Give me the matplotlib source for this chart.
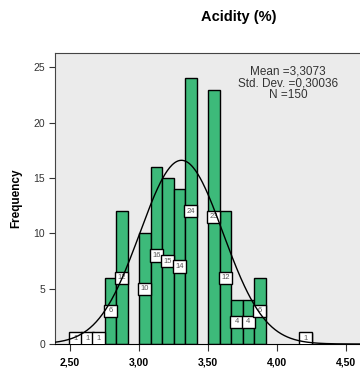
import numpy as np
import matplotlib
matplotlib.use("Agg")
import matplotlib.pyplot as plt
from matplotlib.patches import Rectangle

plt.rcParams['font.family'] = ['Liberation Sans', 'DejaVu Sans']

# histogram data (bin width 1/12, starting at 2.50)
bin_start = 2.5
bin_width = 1 / 12
counts = [1, 1, 1, 6, 12, 0, 10, 16, 15, 14, 24, 0, 23, 12, 4, 4, 6, 0, 0, 0, 1]
mean = 3.3073
std = 0.30036
n = 150
xticks = [2.5, 3.0, 3.5, 4.0, 4.5]
xticklabels = ["2,50", "3,00", "3,50", "4,00", "4,50"]
yticks = [0, 5, 10, 15, 20, 25]

edges = bin_start + np.arange(len(counts) + 1) * bin_width
lefts = edges[:-1]

fig = plt.figure(figsize=(3.6, 3.7), dpi=100)
ax = fig.add_axes([55 / 360, 26 / 370, 305 / 360, 291 / 370])
ax.set_facecolor('#ebebeb')

xlo, xhi = 2.391, 4.601
ax.set_xlim(xlo, xhi)
ax.set_ylim(0, 26.3)

mask = np.array(counts) > 0
ax.bar(lefts[mask], np.array(counts)[mask], width=bin_width, align='edge',
       color='#3dba7a', edgecolor='black', linewidth=1, zorder=2)

# count labels in boxes
for l, c in zip(lefts, counts):
    if c == 0:
        continue
    cx = l + bin_width / 2
    ax.add_patch(Rectangle((cx - 0.046, c / 2 - 0.55), 0.092, 1.1,
                           facecolor='white', edgecolor='black', lw=1, zorder=3))
    ax.text(cx, c / 2, str(c), ha='center', va='center', fontsize=5.5,
            color='#555555', zorder=4)

# normal curve
xs = np.linspace(xlo, xhi, 400)
ys = n * bin_width * np.exp(-0.5 * ((xs - mean) / std) ** 2) / (std * np.sqrt(2 * np.pi))
ax.plot(xs, ys, color='black', lw=1, zorder=5)

ax.set_xticks(xticks)
ax.set_xticklabels(xticklabels, fontweight='bold', fontsize=7.5)
ax.set_yticks(yticks)
ax.tick_params(axis='x', length=5, pad=5, color='#333333')
ax.tick_params(axis='y', length=4, pad=3, labelsize=7.5, labelcolor='#333333', color='#333333')
ax.spines['right'].set_visible(False)
ax.spines['top'].set_color('#444444')
ax.spines['left'].set_color('#444444')
ax.spines['bottom'].set_color('black')

ax.set_ylabel("Frequency", fontweight='bold', fontsize=8.5, labelpad=8)

ax.text(0.764, 0.957, "Mean =3,3073\nStd. Dev. =0,30036\nN =150",
        transform=ax.transAxes, ha='center', va='top', fontsize=8.5,
        color='#333333', linespacing=0.95)

fig.text(239 / 360, 1 - 17 / 370, "Acidity (%)", ha='center', va='center',
         fontsize=10.5, fontweight='bold')

fig.savefig("out.png", dpi=100)
